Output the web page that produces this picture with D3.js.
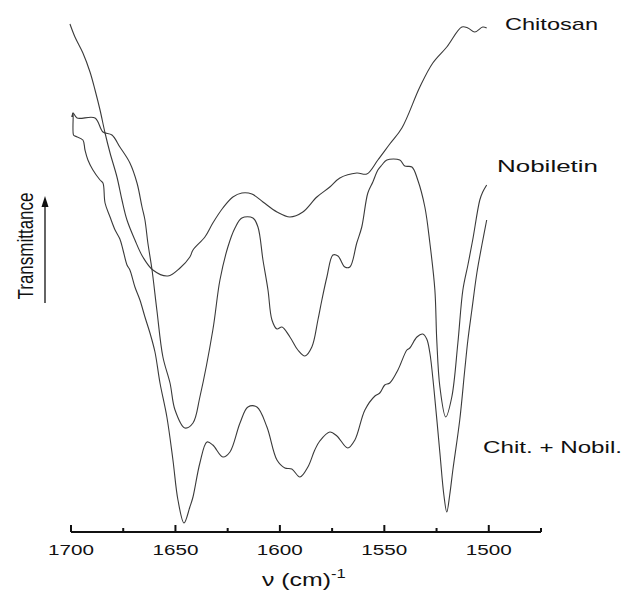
<!DOCTYPE html>
<html>
<head>
<meta charset="utf-8">
<script src="https://cdn.jsdelivr.net/npm/d3@7"></script>
<style>
  body { margin: 0; background: #fff; }
  svg { display: block; }
  text { font-family: "Liberation Sans", Arial, sans-serif; fill: #111; }
</style>
</head>
<body>
<svg id="chart" width="625" height="596"></svg>
<script>
// wavenumber (cm-1) and transmittance (a.u.)
const chitosanNu = [1700.5, 1698.1, 1694.3, 1690.9, 1688.5, 1686.1, 1683.7, 1681.3, 1678.0, 1675.6,
    1673.2, 1669.4, 1665.6, 1660.8, 1653.6, 1647.8, 1643.1, 1641.6, 1635.9, 1632.1, 1627.3, 1622.5,
    1618.2, 1613.4, 1608.1, 1601.4, 1595.2, 1589.0, 1582.3, 1576.1, 1571.3, 1563.2, 1558.4, 1553.1,
    1547.4, 1541.6, 1533.0, 1526.8, 1520.1, 1512.9, 1510.0, 1506.7, 1502.9, 1501.0];
const chitosanT = [101.4, 98.8, 95.6, 91.8, 88.2, 84.2, 79.6, 75.6, 70.8, 66.2,
    62.2, 58.2, 54.8, 52.2, 51.0, 52.6, 54.8, 56.2, 58.8, 61.6, 64.6, 66.8,
    67.6, 67.4, 65.8, 63.8, 62.8, 63.8, 66.8, 68.8, 70.6, 71.6, 71.4, 74.2,
    77.4, 80.6, 88.8, 93.6, 96.8, 100.8, 100.6, 99.8, 100.8, 100.6];

const nobiletinNu = [1699.5, 1699.0, 1697.1, 1688.5, 1684.7, 1680.4, 1676.6, 1671.8, 1668.4, 1666.0,
    1664.6, 1663.2, 1661.2, 1658.9, 1656.0, 1652.6, 1650.2, 1645.5, 1641.6, 1638.3, 1632.1, 1628.7,
    1624.9, 1621.5, 1618.2, 1612.9, 1610.5, 1608.1, 1605.7, 1603.8, 1601.4, 1599.0, 1595.2, 1591.4,
    1588.0, 1584.7, 1581.8, 1579.9, 1577.5, 1574.6, 1572.2, 1568.9, 1566.5, 1563.2, 1560.8, 1557.9,
    1555.5, 1553.1, 1551.2, 1548.8, 1542.6, 1540.2, 1536.8, 1534.0, 1530.6, 1528.2, 1525.8, 1524.9,
    1523.4, 1520.6, 1517.7, 1514.8, 1512.4, 1510.0, 1507.7, 1504.3, 1502.9, 1501.0];
const nobiletinT = [82.8, 83.6, 82.6, 82.6, 79.8, 79.2, 76.8, 73.6, 69.6, 64.8,
    62.2, 57.6, 52.2, 44.2, 34.8, 29.6, 24.2, 20.6, 21.6, 26.8, 40.2, 50.2,
    56.8, 60.6, 62.6, 62.6, 60.8, 54.2, 48.2, 42.2, 40.4, 40.8, 38.8, 36.2,
    35.0, 36.8, 42.2, 46.2, 50.8, 55.2, 55.0, 52.8, 52.8, 57.6, 60.8, 67.6,
    69.8, 72.2, 73.2, 74.2, 74.2, 73.0, 72.8, 70.2, 64.8, 57.6, 48.2, 38.2,
    28.8, 22.8, 26.8, 37.6, 48.2, 53.2, 58.2, 66.2, 67.8, 69.2];

const mixNu = [1699.5, 1699.0, 1698.8, 1698.1, 1694.3, 1693.3, 1691.9, 1689.5, 1686.1, 1684.7,
    1683.7, 1681.3, 1678.9, 1676.6, 1675.1, 1673.2, 1671.8, 1669.4, 1667.0, 1664.6, 1662.2, 1659.8,
    1657.4, 1654.1, 1651.2, 1648.8, 1645.9, 1643.1, 1641.6, 1638.3, 1634.9, 1632.1, 1627.3, 1623.9,
    1619.1, 1615.3, 1611.0, 1606.2, 1601.4, 1597.6, 1594.3, 1590.4, 1586.6, 1583.3, 1580.9, 1576.1,
    1572.7, 1567.5, 1564.1, 1559.3, 1554.5, 1552.2, 1549.8, 1547.4, 1543.5, 1539.2, 1537.8, 1534.4,
    1531.6, 1529.7, 1528.2, 1526.3, 1523.4, 1521.5, 1520.1, 1518.7, 1517.2, 1513.9, 1511.5, 1510.0,
    1508.1, 1505.7, 1503.3, 1501.0];
const mixT = [82.8, 83.6, 79.2, 79.0, 78.2, 76.2, 74.2, 72.2, 70.2, 69.6,
    65.6, 62.8, 60.2, 58.4, 56.2, 53.2, 52.2, 48.8, 46.2, 42.8, 39.6, 35.8,
    29.6, 22.8, 14.2, 6.2, 1.6, 4.8, 6.8, 13.6, 17.8, 17.2, 14.8, 15.8,
    21.6, 24.8, 24.8, 20.8, 14.2, 12.6, 12.4, 10.8, 12.8, 16.2, 18.0, 19.8,
    19.0, 16.6, 18.2, 24.2, 27.0, 27.6, 29.2, 29.6, 32.2, 36.2, 36.6, 38.8,
    39.4, 38.4, 35.6, 28.6, 15.6, 7.2, 3.8, 7.2, 12.2, 22.2, 32.2, 38.2,
    44.2, 51.6, 57.2, 62.2];

const seriesNames = ["Chitosan", "Nobiletin", "Chit. + Nobil."];
const majorTicks = [1700, 1650, 1600, 1550, 1500];
const minorTicks = [1675, 1625, 1575, 1525, 1475];

const svg = d3.select("#chart");
const stretch = 1.38; // glyphs in the figure are drawn wide

const x = d3.scaleLinear().domain([1700, 1475]).range([71, 541]);
const y = d3.scaleLinear().domain([0, 104.2]).range([531, 10]);

function zip(nu, t) {
    return nu.map((v, i) => ({nu: v, t: t[i]}));
}
const series = [zip(chitosanNu, chitosanT), zip(nobiletinNu, nobiletinT), zip(mixNu, mixT)];

const line = d3.line()
    .x(d => x(d.nu))
    .y(d => y(d.t))
    .curve(d3.curveCatmullRom.alpha(0.5));

svg.append("g").selectAll("path")
    .data(series)
    .join("path")
    .attr("d", line)
    .attr("fill", "none")
    .attr("stroke", "#3a3a3a")
    .attr("stroke-width", 1.1);

// bottom axis, ticks pointing up
const axisY = 532;
const xAxis = svg.append("g").attr("transform", `translate(0,${axisY})`);
xAxis.append("line")
    .attr("x1", x(1700)).attr("x2", x(1475))
    .attr("stroke", "#111").attr("stroke-width", 2);
xAxis.selectAll(".major").data(majorTicks).join("line")
    .attr("class", "major")
    .attr("x1", d => x(d)).attr("x2", d => x(d))
    .attr("y1", 0).attr("y2", -7)
    .attr("stroke", "#111").attr("stroke-width", 2);
xAxis.selectAll(".minor").data(minorTicks).join("line")
    .attr("class", "minor")
    .attr("x1", d => x(d)).attr("x2", d => x(d))
    .attr("y1", 0).attr("y2", -4)
    .attr("stroke", "#111").attr("stroke-width", 2);
xAxis.selectAll("text").data(majorTicks).join("text")
    .attr("x", d => x(d)).attr("y", 23)
    .attr("text-anchor", "middle")
    .attr("font-size", 15)
    .attr("textLength", 46)
    .attr("lengthAdjust", "spacingAndGlyphs")
    .text(d => d);

// axis title: nu (cm)^-1
const title = svg.append("text")
    .attr("transform", `translate(262,586) scale(${stretch},1)`)
    .attr("font-size", 18);
title.append("tspan").text("\u03bd (cm)");
title.append("tspan").attr("dy", -8).attr("font-size", 12).text("-1");

// y label with arrow
svg.append("text")
    .attr("transform", `translate(33,246) scale(${stretch},1) rotate(-90)`)
    .attr("text-anchor", "middle")
    .attr("font-size", 16)
    .attr("textLength", 107)
    .attr("lengthAdjust", "spacingAndGlyphs")
    .text("Transmittance");
svg.append("line")
    .attr("x1", 45).attr("x2", 45).attr("y1", 303).attr("y2", 205)
    .attr("stroke", "#111").attr("stroke-width", 1.3);
svg.append("path")
    .attr("d", "M45,196 L41.5,207 L48.5,207 Z")
    .attr("fill", "#111");

// series labels
const labelPos = [
    {x: 505, y: 30, w: 93},
    {x: 497, y: 172, w: 101},
    {x: 483, y: 453, w: 139}
];
svg.append("g").selectAll("text")
    .data(seriesNames)
    .join("text")
    .attr("x", (d, i) => labelPos[i].x)
    .attr("y", (d, i) => labelPos[i].y)
    .attr("font-size", 17)
    .attr("textLength", (d, i) => labelPos[i].w)
    .attr("lengthAdjust", "spacingAndGlyphs")
    .text(d => d);
</script>
</body>
</html>
